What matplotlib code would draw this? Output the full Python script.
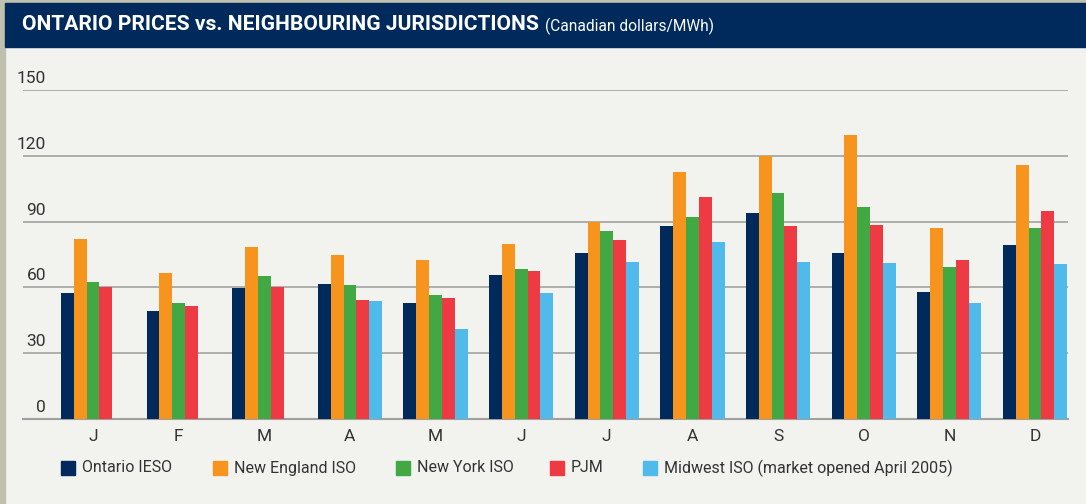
import matplotlib.pyplot as plt
import matplotlib.transforms as mtransforms
import numpy as np
from matplotlib.patches import Rectangle

# Monthly average prices, Canadian dollars/MWh
months = ["J", "F", "M", "A", "M", "J", "J", "A", "S", "O", "N", "D"]
ontario = [57.6, 49.3, 59.8, 61.7, 53.0, 65.8, 75.8, 88.2, 93.7, 75.8, 58.0, 79.5]
new_england = [82.2, 66.7, 78.6, 74.9, 72.6, 79.9, 90.0, 112.4, 119.7, 129.7, 87.3, 116.0]
new_york = [62.6, 53.0, 65.3, 61.2, 56.6, 68.5, 85.9, 92.3, 103.2, 96.8, 69.4, 87.3]
pjm = [60.3, 51.6, 60.3, 54.4, 55.3, 67.6, 81.8, 101.0, 88.2, 88.6, 72.6, 95.0]
midwest = [np.nan, np.nan, np.nan, 53.9, 41.1, 57.6, 71.7, 80.9, 71.7, 71.3, 53.0, 70.8]

series_names = ["Ontario IESO", "New England ISO", "New York ISO", "PJM",
                "Midwest ISO (market opened April 2005)"]
series_values = [ontario, new_england, new_york, pjm, midwest]
colors = ["#002a5c", "#f7941d", "#41a843", "#ee3a43", "#50bbea"]
yticks = [0, 30, 60, 90, 120, 150]

plt.rcParams["font.family"] = ["Roboto", "DejaVu Sans"]
TXT = "#333333"

W, H = 1086, 504
fig = plt.figure(figsize=(W / 100, H / 100), dpi=100)
fig.patch.set_facecolor("#f2f2ee")


def fit_width(txt, target_px):
    # shrink/grow font so the text spans roughly the same width as the reference
    fig.canvas.draw()
    cur = txt.get_window_extent().width
    txt.set_fontsize(txt.get_fontsize() * target_px / cur)


# frame strips and title bar
fig.patches.append(Rectangle((0, 0), 5 / W, 1, transform=fig.transFigure,
                             color="#c0c0ae", zorder=0))
fig.patches.append(Rectangle((5 / W, 1 - 3 / H), 1, 3 / H, transform=fig.transFigure,
                             color="#c0c0ae", zorder=0))
fig.patches.append(Rectangle((5 / W, 1 - 47 / H), 1, 44 / H, transform=fig.transFigure,
                             color="#002a5c", zorder=1))
t = fig.text(22 / W, 1 - 25 / H, "ONTARIO PRICES vs. NEIGHBOURING JURISDICTIONS",
             color="white", fontsize=19, fontweight="bold", va="center", ha="left")
fit_width(t, 516)
st = fig.text(545 / W, 1 - 26 / H, "(Canadian dollars/MWh)",
              color="white", fontsize=12, va="center", ha="left")
fit_width(st, 168)

ax = fig.add_axes([23 / W, (H - 419) / H, (1068 - 23) / W, (419 - 90) / H])
ax.set_facecolor("#f2f2ee")

x = np.arange(len(months))
w = 0.150
for i, (vals, col) in enumerate(zip(series_values, colors)):
    ax.bar(x + (i - 2) * w, vals, width=w, color=col, zorder=3, linewidth=0)

ax.set_xlim(-0.818, 11.386)
ax.set_ylim(0, 150)
ax.set_yticks(yticks[1:])
ax.yaxis.grid(True, color="#a8a8a8", linewidth=1.3, zorder=1)
ax.tick_params(axis="y", length=0, labelleft=False)
for s in ["top", "right", "left"]:
    ax.spines[s].set_visible(False)
ax.spines["bottom"].set_color("#a0a0a0")
ax.spines["bottom"].set_linewidth(1.5)

ax.set_xticks(x)
ax.set_xticklabels(months, fontsize=12.5, color=TXT)
ax.tick_params(axis="x", length=0, pad=7)

trans = mtransforms.offset_copy(ax.get_yaxis_transform(), fig=fig, x=0, y=4, units="dots")
for v in yticks:
    ax.text(23 / (1068 - 23), v, str(v), transform=trans, ha="right", va="bottom",
            fontsize=12.5, color=TXT)

# legend
leg_x = [61, 213, 396, 550, 643]
for lx, name, col in zip(leg_x, series_names, colors):
    fig.patches.append(Rectangle((lx / W, (H - 475) / H), 14 / W, 14 / H,
                                 transform=fig.transFigure, color=col))
    fig.text((lx + 21) / W, (H - 468) / H, name, fontsize=11.5, color=TXT,
             va="center", ha="left")

fig.savefig("out.png", dpi=100, facecolor=fig.get_facecolor())
